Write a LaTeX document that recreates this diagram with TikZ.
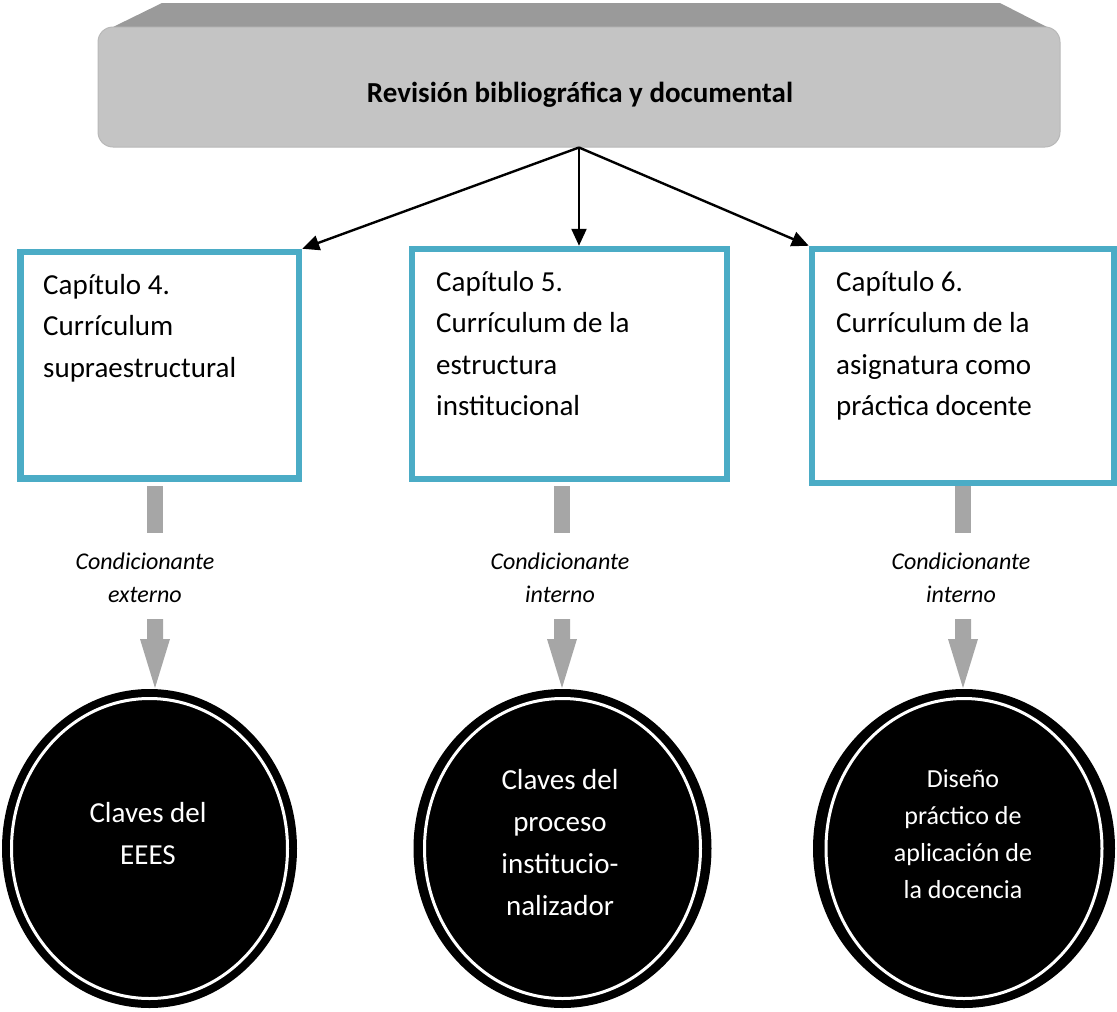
\documentclass[tikz,border=0pt]{standalone}
\usepackage{fontspec}
\setmainfont{Carlito}
\usetikzlibrary{arrows.meta,shapes.geometric,calc}
\definecolor{boxblue}{HTML}{4BACC6}
\definecolor{frontgray}{HTML}{C4C4C4}
\definecolor{edgegray}{HTML}{B8B8B8}
\definecolor{topgray}{HTML}{9A9A9A}
\definecolor{arrgray}{HTML}{A6A6A6}
\begin{document}
\begin{tikzpicture}[x=1pt,y=-1pt,
  chapbox/.style={draw=boxblue, line width=6.5pt, rectangle, inner sep=0pt},
  chaptext/.style={anchor=north west, inner sep=0pt, align=left,
    font=\fontsize{29}{41.5}\selectfont},
  keycircle/.style={ellipse, fill=black, inner sep=0pt},
  keytext/.style={text=white, align=center, inner sep=0pt},
  condtext/.style={align=center, inner sep=0pt,
    font=\itshape\fontsize{24}{33}\selectfont},
  link/.style={line width=2.4pt, -{Triangle[length=17pt,width=15pt]}},
  blockarrow/.style={fill=arrgray},
]
\useasboundingbox (0,0) rectangle (1117,1012);

% title block: bevelled top face and rounded front face
\fill[topgray] (113,27) -- (162,3) -- (1000,3) -- (1047,27) -- cycle;
\node[rectangle, rounded corners=15pt, fill=frontgray, draw=edgegray,
      line width=1pt, minimum width=962pt, minimum height=120pt]
      (t) at (579,87) {};
\node[font=\bfseries\fontsize{29}{35}\selectfont] (tt) at (580,95)
      {Revisión bibliográfica y documental};

% chapter boxes
\node[chapbox, minimum width=278.5pt, minimum height=226.5pt] (b1) at (159.75,365.25) {};
\node[chapbox, minimum width=315pt, minimum height=230pt] (b2) at (569.5,364) {};
\node[chapbox, minimum width=302pt, minimum height=234pt] (b3) at (963,366) {};

\node[chaptext] (b1t) at (43,274) {Capítulo 4.\\Currículum\\supraestructural};
\node[chaptext] (b2t) at (436,271) {Capítulo 5.\\Currículum de la\\estructura\\institucional};
\node[chaptext] (b3t) at (836,271) {Capítulo 6.\\Currículum de la\\asignatura como\\práctica docente};

% connectors from the title block
\draw[link] (t.south) -- (b1.north east);
\draw[link] (t.south) -- (t.south |- b2.north);
\draw[link] (t.south) -- (b3.north west);

% grey block arrows between boxes and circles
\foreach \cx in {155,562,963} {
  \fill[blockarrow] (\cx-8,486) rectangle (\cx+8,533);
  \fill[blockarrow] (\cx-8,619) -- (\cx+8,619) -- (\cx+8,639) -- (\cx+15,639)
     -- (\cx,688) -- (\cx-15,639) -- (\cx-8,639) -- cycle;
}
\node[condtext] (k1) at (145,578) {Condicionante\\externo};
\node[condtext] (k2) at (560,578) {Condicionante\\interno};
\node[condtext] (k3) at (961,578) {Condicionante\\interno};

% result circles with inner white ring
\node[keycircle, minimum width=295pt, minimum height=319pt] (c1) at (149.5,848.5) {};
\node[keycircle, minimum width=298pt, minimum height=319pt] (c2) at (562.5,848.5) {};
\node[keycircle, minimum width=302pt, minimum height=319pt] (c3) at (964,848.5) {};
\foreach \c in {c1,c2,c3} {
  \draw[white, line width=3pt] (\c.center) ellipse [x radius=138pt, y radius=150pt];
}
\node[keytext, font=\fontsize{29}{42}\selectfont] (c1t) at (148,834) {Claves del\\EEES};
\node[keytext, font=\fontsize{29}{42}\selectfont] (c2t) at (560,843)
  {Claves del\\proceso\\institucio-\\nalizador};
\node[keytext, font=\fontsize{26}{37}\selectfont] (c3t) at (963,834)
  {Diseño\\práctico de\\aplicación de\\la docencia};
\end{tikzpicture}
\end{document}
